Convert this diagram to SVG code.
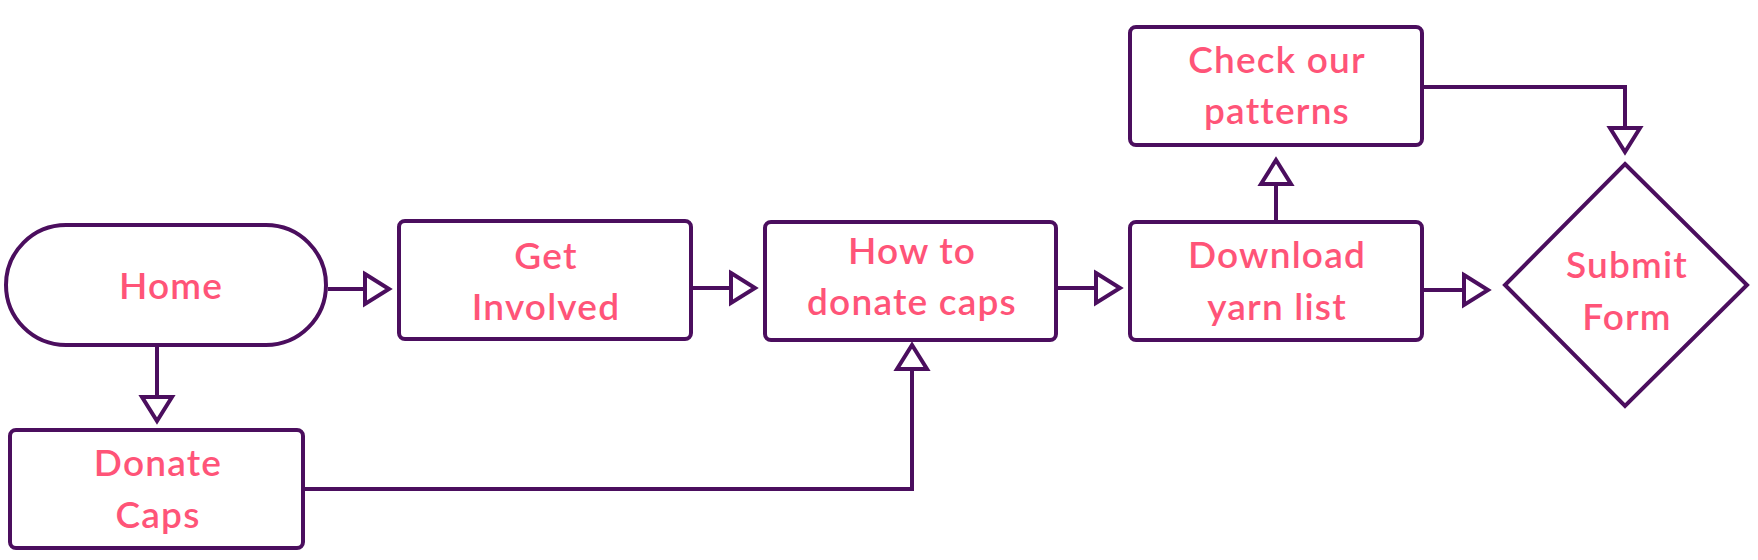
<svg xmlns="http://www.w3.org/2000/svg" width="1758" height="560" viewBox="0 0 1758 560">
  <style>
    .box { fill: #ffffff; stroke: #4B0E5E; stroke-width: 4; }
    .lbl { font-family: "Lato", "Noto Sans", "Liberation Sans", sans-serif; font-size: 37px; font-weight: 600; letter-spacing: 1.2px; fill: #FF5478; text-anchor: middle; }
    .edge { fill: none; stroke: #4B0E5E; stroke-width: 4; }
  </style>
  <defs>
    <marker id="tri" markerUnits="userSpaceOnUse" markerWidth="40" markerHeight="44" viewBox="-6 -22 40 44" refX="24" refY="0" orient="auto" overflow="visible">
      <path d="M0,-15 L24,0 L0,15 Z" fill="#ffffff" stroke="#4B0E5E" stroke-width="4"/>
    </marker>
  </defs>

  <g id="connectors">
    <path class="edge" d="M328,289 H389" marker-end="url(#tri)"/>
    <path class="edge" d="M157,347 V421" marker-end="url(#tri)"/>
    <path class="edge" d="M693,288 H755" marker-end="url(#tri)"/>
    <path class="edge" d="M1058,288 H1120" marker-end="url(#tri)"/>
    <path class="edge" d="M305,489 H912 V345" marker-end="url(#tri)"/>
    <path class="edge" d="M1276,220 V160" marker-end="url(#tri)"/>
    <path class="edge" d="M1424,87 H1625 V152" marker-end="url(#tri)"/>
    <path class="edge" d="M1424,290 H1488" marker-end="url(#tri)"/>
  </g>

  <g id="home">
    <rect class="box" x="6" y="225" width="320" height="120" rx="60" ry="60"/>
    <text class="lbl" x="171" y="299">Home</text>
  </g>
  <g id="get-involved">
    <rect class="box" x="399" y="221" width="292" height="118" rx="6"/>
    <text class="lbl" x="546" y="269">Get</text>
    <text class="lbl" x="546" y="320">Involved</text>
  </g>
  <g id="how-to-donate">
    <rect class="box" x="765" y="222" width="291" height="118" rx="6"/>
    <text class="lbl" x="912" y="264">How to</text>
    <text class="lbl" x="912" y="315">donate caps</text>
  </g>
  <g id="download-yarn">
    <rect class="box" x="1130" y="222" width="292" height="118" rx="6"/>
    <text class="lbl" x="1277" y="268">Download</text>
    <text class="lbl" x="1277" y="320">yarn list</text>
  </g>
  <g id="check-patterns">
    <rect class="box" x="1130" y="27" width="292" height="118" rx="6"/>
    <text class="lbl" x="1277" y="73">Check our</text>
    <text class="lbl" x="1277" y="124">patterns</text>
  </g>
  <g id="donate-caps">
    <rect class="box" x="10" y="430" width="293" height="118" rx="6"/>
    <text class="lbl" x="158" y="476">Donate</text>
    <text class="lbl" x="158" y="528">Caps</text>
  </g>
  <g id="submit-form">
    <polygon class="box" points="1625,164 1747,285 1625,406 1505,285"/>
    <text class="lbl" x="1627" y="278">Submit</text>
    <text class="lbl" x="1627" y="330">Form</text>
  </g>
</svg>
